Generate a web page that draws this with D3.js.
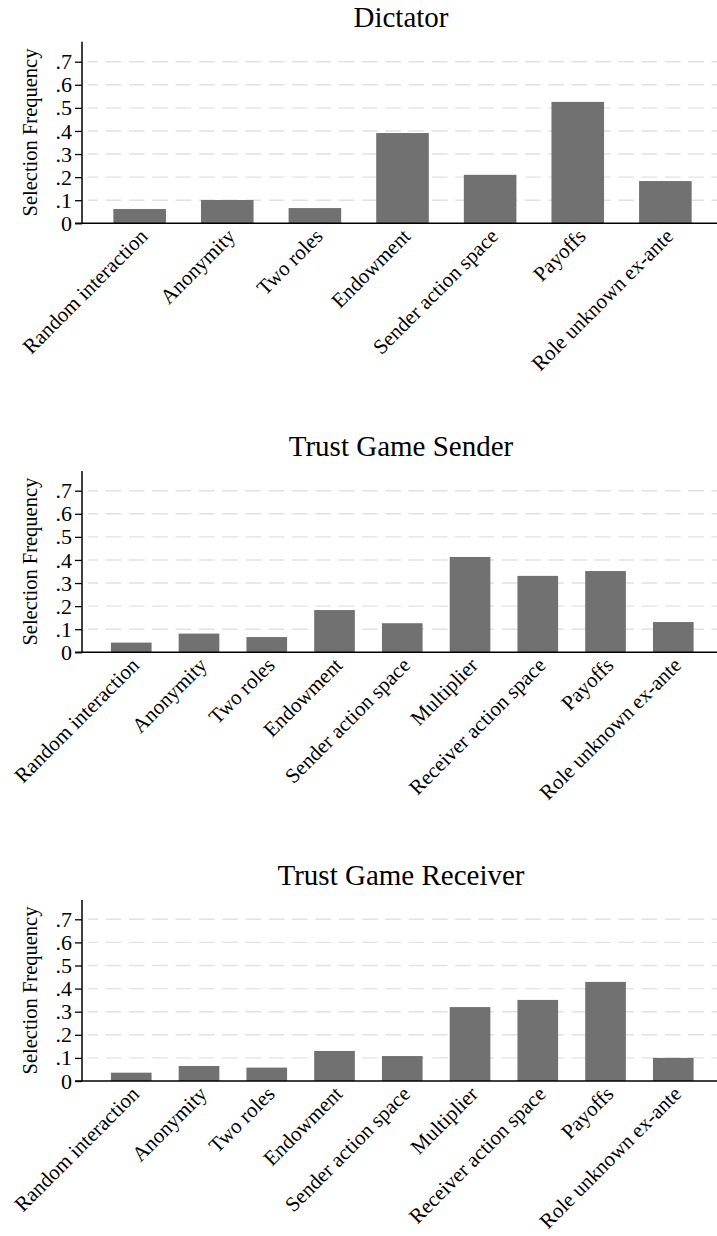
<!DOCTYPE html>
<html>
<head>
<meta charset="utf-8">
<script src="https://cdn.jsdelivr.net/npm/d3@7/dist/d3.min.js"></script>
<style>
  html, body { margin: 0; padding: 0; background: #fff; }
  svg { display: block; }
  svg text { font-family: "Liberation Serif", "DejaVu Serif", serif; fill: #000; }
</style>
</head>
<body>
<svg id="chart" width="717" height="1236"></svg>
<script>
// ---- Data ----
const categoriesDictator = ["Random interaction", "Anonymity", "Two roles", "Endowment",
  "Sender action space", "Payoffs", "Role unknown ex-ante"];
const valuesDictator = [0.062, 0.101, 0.066, 0.391, 0.210, 0.526, 0.183];

const categoriesTrust = ["Random interaction", "Anonymity", "Two roles", "Endowment",
  "Sender action space", "Multiplier", "Receiver action space", "Payoffs", "Role unknown ex-ante"];
const valuesSender = [0.042, 0.081, 0.066, 0.183, 0.126, 0.413, 0.331, 0.352, 0.131];
const valuesReceiver = [0.036, 0.065, 0.058, 0.130, 0.108, 0.320, 0.351, 0.429, 0.100];

const yTickValues = [0, 0.1, 0.2, 0.3, 0.4, 0.5, 0.6, 0.7];
const yTickLabels = ["0", ".1", ".2", ".3", ".4", ".5", ".6", ".7"];

const panelTitles = ["Dictator", "Trust Game Sender", "Trust Game Receiver"];
const yAxisTitle = "Selection Frequency";

// ---- Layout ----
const FONT = "'Liberation Serif', 'DejaVu Serif', serif";
const svg = d3.select("#chart");
const xLeft = 82, xRight = 717;
const panels = [
  { title: panelTitles[0], cats: categoriesDictator, vals: valuesDictator, y0: 223.3, y7: 61.7, top: 41.7, po: 0.3236 },
  { title: panelTitles[1], cats: categoriesTrust, vals: valuesSender, y0: 652.3, y7: 490.7, top: 471, po: 0.386 },
  { title: panelTitles[2], cats: categoriesTrust, vals: valuesReceiver, y0: 1081, y7: 919.3, top: 900, po: 0.386 }
];

panels.forEach(p => {
  const g = svg.append("g");
  const y = d3.scaleLinear().domain([0, 0.7]).range([p.y0, p.y7]);
  const x = d3.scaleBand().domain(p.cats).range([xLeft, xRight])
    .paddingInner(0.4).paddingOuter(p.po).align(0.553);

  // gridlines
  g.append("g").selectAll("line")
    .data(yTickValues.filter(v => v > 0))
    .join("line")
    .attr("x1", 88).attr("x2", xRight)
    .attr("y1", d => y(d)).attr("y2", d => y(d))
    .attr("stroke", "#e2e2e2")
    .attr("stroke-width", 1.4)
    .attr("stroke-dasharray", "15.6 7.7")
    .attr("stroke-dashoffset", 5.6);

  // bars
  g.append("g").selectAll("rect")
    .data(p.cats.map((c, i) => ({ c, v: p.vals[i] })))
    .join("rect")
    .attr("x", d => x(d.c))
    .attr("width", x.bandwidth())
    .attr("y", d => y(d.v))
    .attr("height", d => y(0) - y(d.v))
    .attr("fill", "#717171");

  // y axis
  const yAxis = d3.axisLeft(y).tickValues(yTickValues)
    .tickFormat((d, i) => yTickLabels[i]).tickSize(7).tickPadding(3);
  const ya = g.append("g").attr("transform", `translate(${xLeft},0)`).call(yAxis)
    .attr("font-family", FONT).attr("font-size", 22);
  ya.select(".domain").remove();
  ya.selectAll(".tick line").attr("stroke", "#000").attr("stroke-width", 1.3);
  ya.selectAll(".tick text").attr("fill", "#000");
  g.append("line").attr("x1", xLeft).attr("x2", xLeft)
    .attr("y1", p.top).attr("y2", y(0))
    .attr("stroke", "#000").attr("stroke-width", 1.5);

  // x axis
  const xAxis = d3.axisBottom(x).tickSize(0).tickPadding(0);
  const xa = g.append("g").attr("transform", `translate(0,${y(0)})`).call(xAxis)
    .attr("font-family", FONT).attr("font-size", 21);
  xa.select(".domain").remove();
  xa.selectAll(".tick text")
    .attr("fill", "#000")
    .attr("text-anchor", "end")
    .attr("dy", "0.35em")
    .attr("y", 0)
    .attr("transform", "translate(4,9) rotate(-45)");
  g.append("line").attr("x1", xLeft - 7).attr("x2", xRight)
    .attr("y1", y(0)).attr("y2", y(0))
    .attr("stroke", "#000").attr("stroke-width", 1.5);

  // y title
  const ymid = (p.top + y(0)) / 2;
  g.append("text")
    .attr("transform", `translate(37,${ymid}) rotate(-90)`)
    .attr("text-anchor", "middle")
    .attr("font-family", FONT)
    .attr("font-size", 20.5)
    .text(yAxisTitle);

  // panel title
  g.append("text")
    .attr("x", 401).attr("y", p.top - 15)
    .attr("text-anchor", "middle")
    .attr("font-family", FONT)
    .attr("font-size", 29)
    .text(p.title);
});
</script>
</body>
</html>
